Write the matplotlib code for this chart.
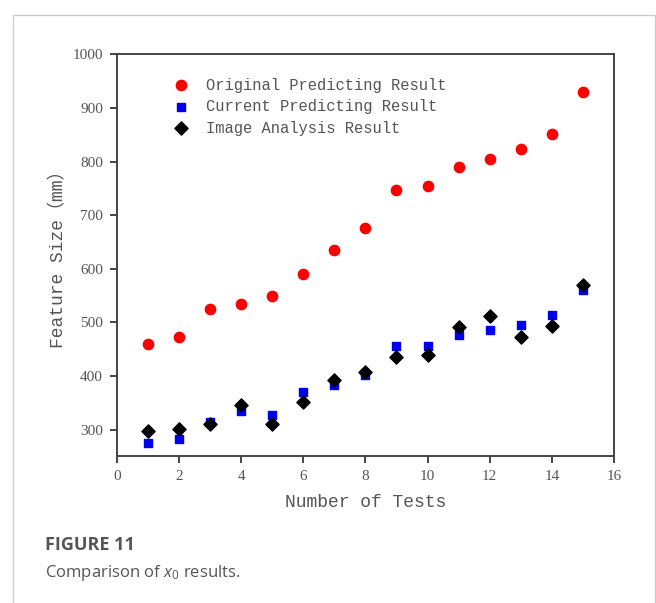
import numpy as np
import matplotlib
matplotlib.use("Agg")
import matplotlib.pyplot as plt
from matplotlib.patches import Rectangle

# test number
tests = [1, 2, 3, 4, 5, 6, 7, 8, 9, 10, 11, 12, 13, 14, 15]

# feature size (mm)
original = [459, 473, 525, 534, 549, 590, 635, 676, 747, 755, 790, 804, 824, 851, 929]
current = [275, 282, 314, 335, 327, 371, 383, 401, 455, 455, 476, 485, 496, 513, 560]
image_analysis = [297, 302, 310, 346, 311, 352, 393, 407, 435, 440, 491, 511, 473, 493, 570]

labels = ["Original Predicting Result", "Current Predicting Result", "Image Analysis Result"]
x_ticks = [0, 2, 4, 6, 8, 10, 12, 14, 16]
y_ticks = [300, 400, 500, 600, 700, 800, 900, 1000]

plt.rcParams["font.family"] = ["Liberation Mono", "Noto Sans CJK SC"]
plt.rcParams["mathtext.fontset"] = "custom"
plt.rcParams["mathtext.it"] = "Open Sans:italic"
plt.rcParams["mathtext.rm"] = "Open Sans"

fig = plt.figure(figsize=(6.56, 6.03), dpi=100)

# card border around figure + caption
fig.patches.append(Rectangle((13 / 656, -0.05), 642 / 656, 1 - 15 / 603 + 0.05,
                             transform=fig.transFigure, fill=False,
                             edgecolor="#cccccc", linewidth=1.0))

ax = fig.add_axes([0.178, 0.244, 0.758, 0.666])

ax.scatter(tests, original, s=55, marker="o", color="#ff0000", label=labels[0], zorder=3)
ax.scatter(tests, current, s=38, marker="s", color="#0000ee", label=labels[1], zorder=3)
ax.scatter(tests, image_analysis, s=45, marker="D", color="#000000", label=labels[2], zorder=4)

ax.set_xlim(0, 16)
ax.set_ylim(251, 1000)
ax.set_xticks(x_ticks)
ax.set_yticks(y_ticks)

for sp in ax.spines.values():
    sp.set_color("#444444")
    sp.set_linewidth(1.4)
ax.tick_params(direction="out", length=5, width=1.4, color="#444444",
               labelcolor="#555555", labelsize=11, pad=5)
for lab in ax.get_xticklabels() + ax.get_yticklabels():
    lab.set_family("Liberation Serif")

ax.set_xlabel("Number of Tests", fontsize=13, color="#555555", labelpad=8)
ax.set_ylabel("Feature Size（mm）", fontsize=13, color="#555555", labelpad=4)

leg = ax.legend(loc="upper left", bbox_to_anchor=(0.07, 0.977), frameon=False,
                fontsize=11.2, handletextpad=0.6, labelspacing=0.42,
                markerscale=1.0, scatterpoints=1)
for t in leg.get_texts():
    t.set_color("#555555")

fig.text(45 / 656, 1 - 545 / 603, "FIGURE 11", fontsize=13, fontweight="bold",
         family="Open Sans", color="#555555", va="center")
fig.text(45 / 656, 1 - 573 / 603, r"Comparison of $x_0$ results.", fontsize=12,
         family="Open Sans", color="#555555", va="center")

fig.savefig("out.png", dpi=100)
